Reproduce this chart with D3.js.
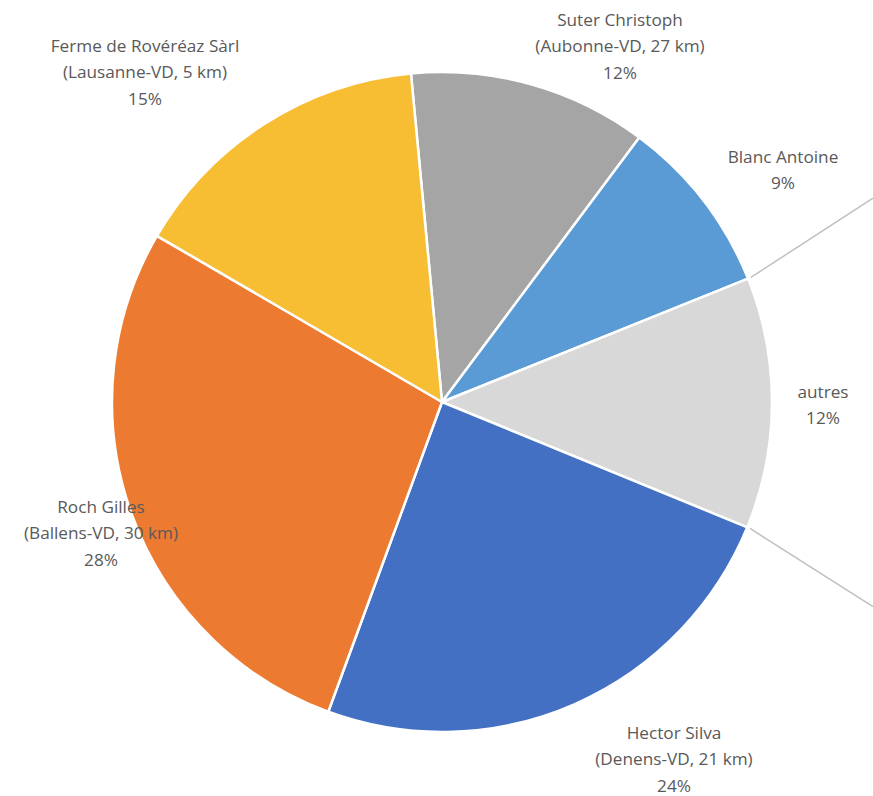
<!DOCTYPE html>
<html><head><meta charset="utf-8">
<script src="https://cdn.jsdelivr.net/npm/d3@7"></script>
<style>
html,body{margin:0;padding:0;background:#fff;}
svg{display:block;}
text{font-family:"Open Sans","Lato",sans-serif;fill:#595959;}
</style></head>
<body>
<svg id="chart" width="873" height="796"></svg>
<script>
// Data (clockwise from the top)
const names = ["Suter Christoph", "Blanc Antoine", "autres", "Hector Silva", "Roch Gilles", "Ferme de Rovéréaz Sàrl"];
const places = ["(Aubonne-VD, 27 km)", "", "", "(Denens-VD, 21 km)", "(Ballens-VD, 30 km)", "(Lausanne-VD, 5 km)"];
const shares = [11.7, 8.7, 12.3, 24.4, 27.8, 15.1];
const colors = ["#A5A5A5", "#5A9AD5", "#D8D8D8", "#4370C2", "#EC7B31", "#F7BE33"];

// Layout
const cx = 442, cy = 402, R = 330;
const startDeg = -5.4;
const labelAnchors = [[620, 46], [783, 170], [823, 405], [674, 759], [101, 533], [145, 72]];

const svg = d3.select("#chart");
const g = svg.append("g").attr("transform", `translate(${cx},${cy})`);

const pie = d3.pie().sort(null).value(d => d.v)
  .startAngle(startDeg * Math.PI / 180)
  .endAngle(startDeg * Math.PI / 180 + 2 * Math.PI);
const data = names.map((n, i) => ({ name: n, place: places[i], v: shares[i], c: colors[i], i }));
const arcs = pie(data);
const arc = d3.arc().innerRadius(0).outerRadius(R);

g.selectAll("path.slice").data(arcs).enter().append("path")
  .attr("class", "slice")
  .attr("d", arc)
  .attr("fill", d => d.data.c)
  .attr("stroke", "#fff")
  .attr("stroke-width", 2.5)
  .attr("stroke-linejoin", "round");

// leader lines on the right (leaving the frame)
const leaders = [
  { a: arcs[1].endAngle, slope: -0.65 },
  { a: arcs[2].endAngle, slope: 0.635 }
];
leaders.forEach(l => {
  const x0 = cx + Math.sin(l.a) * (R + 3);
  const y0 = cy - Math.cos(l.a) * (R + 3);
  const x1 = 873;
  const y1 = y0 + (x1 - x0) * l.slope;
  svg.append("line").attr("x1", x0).attr("y1", y0).attr("x2", x1).attr("y2", y1)
    .attr("stroke", "#BFBFBF").attr("stroke-width", 1.5);
});

// labels
const fmt = d3.format(".0f");
arcs.forEach((d, i) => {
  const lines = [d.data.name];
  if (d.data.place) lines.push(d.data.place);
  lines.push(fmt(d.data.v) + "%");
  const [lx, ly] = labelAnchors[i];
  const lh = 26.5;
  const y0 = ly - (lines.length - 1) * lh / 2;
  const t = svg.append("text").attr("text-anchor", "middle").attr("font-size", 17.2);
  lines.forEach((s, k) => {
    t.append("tspan").attr("x", lx).attr("y", y0 + k * lh).attr("dy", "0.35em").text(s);
  });
});
</script>
</body></html>
